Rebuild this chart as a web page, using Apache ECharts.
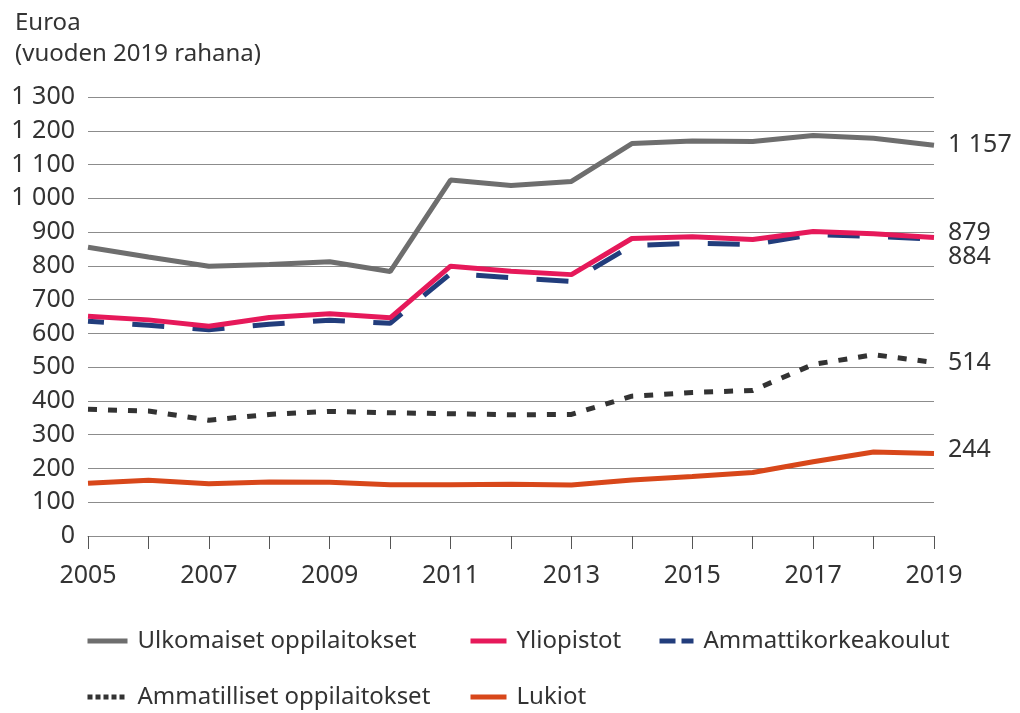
<!DOCTYPE html>
<html>
<head>
<meta charset="utf-8">
<script src="https://cdn.jsdelivr.net/npm/echarts@6/dist/echarts.min.js"></script>
<style>html,body{margin:0;padding:0;background:#fff}#c{width:1020px;height:713px}</style>
</head>
<body>
<div id="c"></div>
<script>
const years = ['2005','2006','2007','2008','2009','2010','2011','2012','2013','2014','2015','2016','2017','2018','2019'];
const seriesNames = ['Ulkomaiset oppilaitokset','Yliopistot','Ammattikorkeakoulut','Ammatilliset oppilaitokset','Lukiot'];
const ulkomaiset = [855,826,799,804,812,783,1054,1038,1050,1162,1170,1168,1186,1178,1157];
const yliopistot = [651,640,621,647,658,646,799,784,774,881,886,878,902,895,884];
const amk = [636,624,611,627,639,630,777,765,754,860,867,863,893,887,879];
const ammatilliset = [375,370,343,360,369,365,362,359,360,414,425,431,508,537,514];
const lukiot = [156,165,155,160,159,152,152,153,151,166,176,188,220,249,244];
const endLabelTexts = ['1 157','879','884','514','244'];
const yTickFormat = v => String(v).replace(/\B(?=(\d{3})+(?!\d))/g, ' ');

const FONT = 'Noto Sans';
const TXT = '#333333';
const NUM = 25;
const chart = echarts.init(document.getElementById('c'));

function endLabel(i, dy) {
  return { show: true, formatter: () => endLabelTexts[i], color: TXT, fontSize: NUM, fontFamily: FONT, distance: 14, offset: [0, dy] };
}

const legendPos = [
  {left: 85, top: 629, w: 40}, {left: 468, top: 629, w: 36}, {left: 651, top: 629, w: 40},
  {left: 85, top: 685, w: 40}, {left: 468, top: 685, w: 36}
];
const legendLine = [null, null, {type: [16, 6]}, {type: [5, 3]}, null];

chart.setOption({
  animation: false,
  textStyle: { fontFamily: FONT },
  title: {
    text: 'Euroa\n(vuoden 2019 rahana)',
    left: 10, top: 3,
    textStyle: { fontSize: 24, fontWeight: 'normal', color: TXT, lineHeight: 31, fontFamily: FONT }
  },
  legend: seriesNames.map((n, i) => ({
    data: [n],
    left: legendPos[i].left, top: legendPos[i].top, padding: 0,
    itemWidth: legendPos[i].w, itemHeight: 14,
    itemStyle: { opacity: 0 },
    lineStyle: Object.assign({ width: 5 }, legendLine[i] || {}),
    textStyle: { fontSize: 24, color: TXT, fontFamily: FONT, padding: [0, 0, 0, 5] },
    selectedMode: false
  })),
  grid: { left: 88, right: 86, top: 97, bottom: 177, containLabel: false },
  xAxis: {
    type: 'category', data: years, boundaryGap: false,
    axisLine: { lineStyle: { color: '#8c8c8c', width: 1 } },
    axisTick: { show: true, length: 13, interval: 0, lineStyle: { color: '#555' } },
    axisLabel: { interval: 1, color: TXT, fontSize: NUM, margin: 27, fontFamily: FONT },
    splitLine: { show: false }
  },
  yAxis: {
    type: 'value', min: 0, max: 1300, interval: 100,
    axisLine: { show: false }, axisTick: { show: false },
    axisLabel: { color: TXT, fontSize: NUM, margin: 13, formatter: yTickFormat, fontFamily: FONT },
    splitLine: { lineStyle: { color: '#8c8c8c', width: 1 } }
  },
  series: [
    { name: seriesNames[0], type: 'line', data: ulkomaiset, symbol: 'none', z: 3,
      lineStyle: { color: '#6e6e6e', width: 5 }, itemStyle: { color: '#6e6e6e' }, endLabel: endLabel(0, 0) },
    { name: seriesNames[1], type: 'line', data: yliopistot, symbol: 'none', z: 4,
      lineStyle: { color: '#e6195a', width: 5 }, itemStyle: { color: '#e6195a' }, endLabel: endLabel(1, -5) },
    { name: seriesNames[2], type: 'line', data: amk, symbol: 'none', z: 3,
      lineStyle: { color: '#223d7c', width: 5, type: [32, 28.4], dashOffset: 16 }, itemStyle: { color: '#223d7c' }, endLabel: endLabel(2, 18) },
    { name: seriesNames[3], type: 'line', data: ammatilliset, symbol: 'none', z: 3,
      lineStyle: { color: '#333333', width: 5, type: [9, 11] }, itemStyle: { color: '#333333' }, endLabel: endLabel(3, 0) },
    { name: seriesNames[4], type: 'line', data: lukiot, symbol: 'none', z: 3,
      lineStyle: { color: '#d8471a', width: 5 }, itemStyle: { color: '#d8471a' }, endLabel: endLabel(4, -4) }
  ]
});
</script>
</body>
</html>
